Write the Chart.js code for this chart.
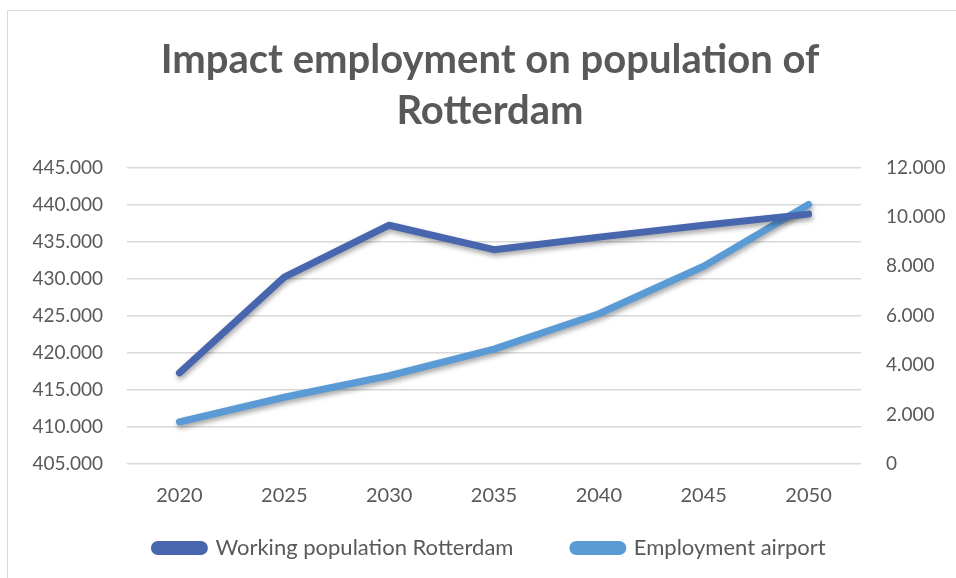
<!DOCTYPE html>
<html>
<head>
<meta charset="utf-8">
<script src="https://cdn.jsdelivr.net/npm/chart.js@4"></script>
<style>
  html, body { margin: 0; background: #fff; overflow: hidden; }
  .frame { position: absolute; left: 7px; top: 10px; width: 966px; height: 580px; border: 1px solid #d9d9d9; }
  .chart-w { position: absolute; left: 7px; top: 10px; width: 966px; height: 568px; }
</style>
</head>
<body>
<div class="frame"></div>
<div class="chart-w"><canvas id="myChart"></canvas></div>
<script>
// data
const years = ['2020', '2025', '2030', '2035', '2040', '2045', '2050'];
const workingPopulation = [417300, 430200, 437200, 433900, 435600, 437200, 438700];
const employmentAirport = [1700, 2700, 3570, 4650, 6080, 8000, 10500];

const grey = '#595959';
const darkBlue = '#4766AE';
const lightBlue = '#5B9BD5';

// shadow under the lines
const lineShadow = {
  id: 'lineShadow',
  beforeDatasetsDraw(chart) {
    const c = chart.ctx;
    c.save();
    c.shadowColor = 'rgba(0,0,0,0.35)';
    c.shadowBlur = 5;
    c.shadowOffsetX = 1;
    c.shadowOffsetY = 3;
  },
  afterDatasetsDraw(chart) {
    chart.ctx.restore();
  }
};

// dot as thousands separator
function fmt(v) {
  if (v == 0) return '0';
  return v.toLocaleString('de-DE', { minimumFractionDigits: 0 });
}

const ctx = document.getElementById('myChart');
new Chart(ctx, {
  type: 'line',
  data: {
    labels: years,
    datasets: [{
      label: 'Working population Rotterdam',
      data: workingPopulation,
      borderColor: darkBlue,
      backgroundColor: darkBlue,
      borderWidth: 7,
      pointRadius: 0,
      borderCapStyle: 'round',
      borderJoinStyle: 'round',
      yAxisID: 'y',
    },
    {
      label: 'Employment airport',
      data: employmentAirport,
      borderColor: lightBlue,
      backgroundColor: lightBlue,
      borderWidth: 7,
      pointRadius: 0,
      borderCapStyle: 'round',
      borderJoinStyle: 'round',
      yAxisID: 'y1',
    }]
  },
  options: {
    responsive: true,
    maintainAspectRatio: false,
    animation: false,
    layout: { padding: { left: 0, right: 0, top: 0, bottom: 9 } },
    scales: {
      x: {
        offset: true,
        grid: { display: false },
        border: { display: false },
        ticks: { color: grey, padding: 11.5, font: { family: 'Lato', size: 20 } },
        afterFit(scale) { scale.height = 53; }
      },
      y: {
        position: 'left',
        min: 405000,
        max: 445000,
        border: { display: false },
        grid: { color: '#d9d9d9', lineWidth: 1.5, drawTicks: false },
        ticks: {
          stepSize: 5000,
          color: grey,
          padding: 24,
          font: { family: 'Lato', size: 19 },
          callback: v => fmt(v)
        },
        afterFit(scale) { scale.width = 120; }
      },
      y1: {
        position: 'right',
        min: 0,
        max: 12000,
        border: { display: false },
        grid: { display: false, drawTicks: false },
        ticks: {
          stepSize: 2000,
          color: grey,
          padding: 25,
          font: { family: 'Lato', size: 19 },
          callback: v => fmt(v)
        },
        afterFit(scale) { scale.width = 112; }
      }
    },
    plugins: {
      title: {
        display: true,
        text: ['Impact employment on population of', 'Rotterdam'],
        color: grey,
        font: { family: 'Lato', size: 40, weight: 'bold', lineHeight: 1.28 },
        padding: { top: 24, bottom: 31 }
      },
      legend: {
        position: 'bottom',
        labels: {
          color: grey,
          boxWidth: 50,
          boxHeight: 7,
          useBorderRadius: true,
          borderRadius: 3.5,
          padding: 20,
          font: { family: 'Lato', size: 22 },
          // wider gap after the first entry, like the original
          generateLabels(chart) {
            const items = Chart.defaults.plugins.legend.labels.generateLabels(chart);
            items[0].text = items[0].text + '       ';
            return items;
          }
        }
      },
      tooltip: { enabled: false }
    }
  },
  plugins: [lineShadow]
});
</script>
</body>
</html>
